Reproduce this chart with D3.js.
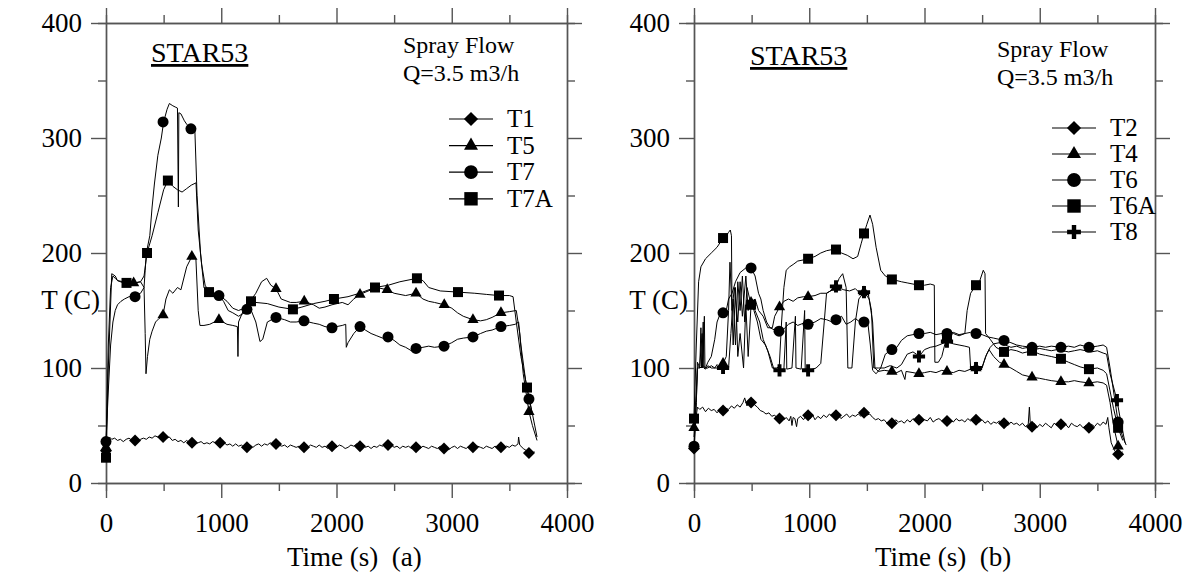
<!DOCTYPE html>
<html><head><meta charset="utf-8">
<script src="https://cdn.jsdelivr.net/npm/d3@7/dist/d3.min.js"></script>
<style>
body{margin:0;background:#fff;}
text{font-family:"Liberation Serif","Times New Roman",serif;fill:#000;white-space:pre;}
</style></head>
<body><svg id="c" width="1190" height="575"></svg>
<script>
// ---------- tick values / labels ----------
const timeMajor = [0,1000,2000,3000,4000];
const timeMinor = [500,1500,2500,3500];
const tempMajor = [0,100,200,300,400];
const tempMinor = [50,150,250,350];
const xTitles = ["Time (s)  (a)","Time (s)  (b)"];
const yTitle = "T (C)";
const caseLabel = "STAR53";
const noteLines = ["Spray Flow","Q=3.5 m3/h"];
const namesA = ["T1","T5","T7","T7A"];
const namesB = ["T2","T4","T6","T6A","T8"];

// ---------- panel (a) ----------
const a_T1 = [[0,27],[15,38],[30,40],[50,38],[75,39],[100,37],[125,38],[150,36],[175,38],[200,39],[225,37],[250,38],[275,36],[300,38],[325,39],[350,38],[375,40],[400,39],[425,41],[450,40],[475,42],[500,40],[525,39],[550,40],[575,37],[600,38],[625,36],[650,37],[675,35],[700,37],[725,35],[750,36],[775,34],[800,35],[825,36],[850,34],[875,35],[900,34],[925,36],[950,35],[975,36],[1000,34],[1025,35],[1050,33],[1075,34],[1100,32],[1125,34],[1150,32],[1175,33],[1200,31],[1225,32],[1250,33],[1275,31],[1300,33],[1325,34],[1350,32],[1375,34],[1400,33],[1425,35],[1450,33],[1475,34],[1500,33],[1525,32],[1550,33],[1575,31],[1600,33],[1625,32],[1650,31],[1675,32],[1700,30],[1725,32],[1750,31],[1775,33],[1800,32],[1825,31],[1850,33],[1875,31],[1900,32],[1925,30],[1950,32],[1975,33],[2000,31],[2025,33],[2050,32],[2075,30],[2100,31],[2125,33],[2150,32],[2175,34],[2200,32],[2225,33],[2250,31],[2275,32],[2300,30],[2325,32],[2350,31],[2375,33],[2400,32],[2425,34],[2450,32],[2475,33],[2500,31],[2525,32],[2550,30],[2575,32],[2600,31],[2625,32],[2650,30],[2675,31],[2700,32],[2725,30],[2750,32],[2775,31],[2800,30],[2825,32],[2850,31],[2875,30],[2900,32],[2925,30],[2950,31],[2975,29],[3000,31],[3025,32],[3050,30],[3075,32],[3100,31],[3125,30],[3150,32],[3175,31],[3200,30],[3225,32],[3250,31],[3275,30],[3300,32],[3325,31],[3350,30],[3375,32],[3400,31],[3425,32],[3450,30],[3475,32],[3500,31],[3525,33],[3550,32],[3575,34],[3580,40],[3590,33],[3620,30],[3650,28],[3680,26],[3720,27]];
const a_T1_marks = [[0,28],[252,37],[495,40],[746,35],[990,35],[1223,31],[1475,34],[1718,31],[1961,32],[2204,32],[2447,33],[2690,31],[2933,30],[3184,31],[3427,31],[3670,26]];

const a_T5 = [[0,30],[20,120],[40,170],[60,180],[80,178],[100,176],[150,175],[200,174],[250,174],[300,175],[330,170],[340,130],[347,95],[360,110],[380,125],[400,132],[430,140],[460,143],[495,146],[520,160],[550,168],[580,165],[620,170],[650,168],[680,180],[700,188],[745,197],[780,195],[800,150],[815,137],[850,137],[900,138],[980,142],[1050,138],[1100,137],[1140,136],[1145,110],[1150,140],[1200,152],[1250,158],[1300,165],[1350,175],[1394,178],[1430,172],[1475,169],[1520,160],[1600,157],[1650,157],[1720,158],[1800,155],[1850,152],[1900,153],[1961,155],[2050,157],[2100,155],[2150,160],[2204,164],[2300,168],[2350,170],[2440,168],[2500,165],[2600,163],[2690,165],[2750,160],[2800,158],[2850,157],[2935,155],[3000,152],[3050,148],[3100,145],[3184,142],[3250,141],[3300,142],[3350,144],[3427,148],[3500,149],[3560,150],[3590,130],[3620,95],[3670,62],[3700,50],[3740,37]];
const a_T5_marks = [[0,31],[240,174],[495,146],[745,197],[980,142],[1475,169],[1720,158],[2204,164],[2440,168],[2690,165],[2935,155],[3184,142],[3427,148],[3670,62]];

const a_T7 = [[0,36],[20,80],[40,120],[60,140],[80,150],[100,155],[130,158],[160,160],[200,162],[250,163],[300,165],[330,170],[340,185],[350,200],[380,215],[400,240],[420,260],[450,285],[480,300],[500,314],[530,325],[550,330],[580,328],[600,327],[620,326],[628,240],[632,322],[650,321],[680,315],[700,312],[740,308],[770,310],[790,250],[820,200],[850,170],[880,165],[920,165],[980,163],[1020,158],[1060,150],[1100,148],[1150,145],[1200,148],[1223,151],[1260,150],[1300,140],[1336,123],[1360,125],[1400,140],[1475,144],[1550,142],[1600,140],[1650,140],[1718,141],[1800,139],[1850,138],[1900,136],[1961,135],[2000,136],[2050,137],[2080,138],[2085,118],[2100,122],[2150,130],[2204,136],[2250,133],[2300,130],[2350,128],[2400,126],[2447,127],[2500,124],[2550,120],[2600,118],[2650,115],[2690,117],[2750,118],[2800,119],[2850,118],[2933,119],[3000,122],[3050,125],[3100,126],[3184,127],[3250,130],[3300,132],[3350,133],[3427,136],[3500,137],[3550,138],[3580,140],[3600,120],[3640,90],[3670,73],[3700,60],[3740,40]];
const a_T7_marks = [[0,36],[252,162],[495,314],[737,308],[980,163],[1223,151],[1475,144],[1718,141],[1961,135],[2204,136],[2447,127],[2690,117],[2933,119],[3184,127],[3427,136],[3670,73]];

const a_T7A = [[0,22],[20,100],[50,182],[80,180],[100,176],[150,174],[200,173],[250,174],[300,175],[330,180],[356,200],[400,215],[450,235],[500,255],[537,263],[580,258],[620,255],[660,253],[700,256],[740,259],[781,261],[800,220],[830,190],[860,172],[894,166],[950,165],[1000,162],[1050,158],[1100,152],[1150,150],[1200,152],[1258,158],[1300,157],[1400,156],[1500,153],[1622,151],[1700,153],[1800,156],[1900,158],[1978,160],[2100,162],[2200,165],[2334,170],[2450,172],[2550,175],[2698,178],[2750,176],[2800,170],[2900,167],[3054,166],[3200,165],[3300,164],[3410,163],[3500,163],[3532,162],[3560,140],[3600,110],[3653,83],[3700,60]];
const a_T7A_marks = [[0,22],[178,174],[356,200],[537,263],[894,166],[1258,158],[1622,151],[1978,160],[2334,170],[2698,178],[3054,166],[3410,163],[3653,83]];

// ---------- panel (b) ----------
const b_T2 = [[0,30],[15,55],[30,66],[50,64],[75,66],[100,62],[125,65],[150,63],[175,64],[200,61],[225,64],[250,63],[275,65],[300,64],[325,67],[350,65],[375,68],[400,66],[425,70],[440,74],[460,67],[480,72],[495,70],[510,73],[525,68],[550,66],[575,63],[600,62],[625,60],[650,61],[675,58],[700,59],[725,56],[742,56],[760,58],[780,55],[800,57],[825,54],[840,58],[850,50],[860,57],[875,56],[890,49],[900,56],[925,58],[950,55],[975,59],[990,58],[1010,56],[1025,60],[1050,55],[1075,58],[1100,56],[1125,59],[1150,57],[1175,60],[1200,58],[1225,57],[1250,59],[1275,56],[1300,58],[1325,60],[1350,57],[1375,59],[1400,58],[1425,60],[1450,58],[1475,61],[1500,59],[1525,60],[1550,57],[1575,55],[1600,56],[1625,54],[1650,55],[1675,52],[1700,54],[1725,52],[1750,55],[1775,53],[1800,54],[1825,52],[1850,55],[1875,53],[1900,56],[1925,54],[1950,55],[1975,53],[2000,55],[2025,54],[2050,57],[2075,53],[2100,55],[2125,56],[2150,54],[2175,56],[2200,54],[2225,55],[2250,53],[2275,56],[2300,54],[2325,55],[2350,53],[2375,56],[2400,54],[2425,55],[2450,54],[2475,53],[2500,55],[2525,52],[2550,54],[2575,51],[2600,53],[2625,52],[2650,54],[2675,51],[2700,52],[2725,50],[2750,53],[2775,51],[2800,52],[2825,50],[2850,52],[2875,49],[2900,51],[2910,66],[2920,48],[2933,50],[2950,52],[2975,48],[3000,51],[3025,49],[3050,52],[3075,50],[3100,48],[3125,52],[3150,50],[3175,52],[3200,49],[3225,51],[3250,48],[3275,52],[3300,50],[3325,49],[3350,51],[3375,48],[3400,50],[3425,48],[3450,51],[3475,49],[3500,52],[3525,50],[3550,53],[3575,51],[3590,57],[3600,48],[3620,35],[3650,28],[3680,25],[3720,27]];
const b_T2_marks = [[0,30],[252,63],[495,70],[742,56],[990,59],[1232,59],[1475,61],[1717,52],[1952,55],[2195,54],[2447,55],[2690,52],[2933,49],[3184,51],[3427,48],[3680,25]];

const b_T4 = [[0,48],[20,80],[30,100],[50,102],[70,130],[75,100],[90,145],[95,100],[120,100],[150,102],[180,100],[200,103],[230,100],[252,104],[280,110],[300,150],[312,192],[330,150],[350,170],[380,140],[400,175],[420,145],[450,180],[470,150],[495,157],[530,160],[560,150],[600,145],[640,135],[680,135],[700,145],[742,153],[780,158],[820,160],[860,158],[900,161],[950,162],[990,162],[1050,163],[1100,165],[1150,165],[1200,168],[1250,170],[1300,168],[1350,167],[1400,169],[1440,165],[1475,166],[1520,160],[1550,140],[1570,100],[1600,97],[1650,98],[1717,97],[1760,96],[1800,98],[1830,90],[1840,97],[1900,96],[1952,95],[2000,96],[2050,97],[2100,96],[2150,98],[2195,97],[2250,96],[2300,98],[2350,97],[2400,99],[2447,100],[2500,100],[2530,110],[2560,116],[2600,110],[2650,105],[2690,103],[2750,100],[2800,97],[2850,94],[2933,92],[3000,91],[3050,90],[3100,89],[3184,88],[3250,88],[3300,89],[3350,88],[3427,87],[3500,88],[3550,87],[3580,85],[3610,70],[3640,50],[3680,32],[3720,30]];
const b_T4_marks = [[0,48],[252,104],[495,157],[742,153],[990,162],[1232,170],[1475,166],[1717,97],[1952,95],[2195,97],[2447,100],[2690,103],[2933,92],[3184,88],[3427,87],[3680,32]];

const b_T6 = [[0,32],[20,70],[30,105],[50,100],[80,102],[100,100],[120,105],[150,110],[180,125],[200,140],[230,148],[252,148],[280,150],[300,160],[330,165],[360,175],[400,183],[450,187],[495,187],[530,180],[560,165],[580,160],[600,150],[630,140],[660,135],[700,133],[738,132],[780,134],[820,138],[860,140],[900,137],[950,139],[990,138],[1050,140],[1100,143],[1150,142],[1200,140],[1232,142],[1280,145],[1320,138],[1360,140],[1400,143],[1440,140],[1475,140],[1510,138],[1530,120],[1550,98],[1580,95],[1620,100],[1660,112],[1717,116],[1760,118],[1800,124],[1850,128],[1900,129],[1952,130],[2000,130],[2050,131],[2100,129],[2150,130],[2195,130],[2250,131],[2300,129],[2350,130],[2400,131],[2447,130],[2500,129],[2550,127],[2600,126],[2690,124],[2750,122],[2800,120],[2850,119],[2933,118],[3000,119],[3050,118],[3100,119],[3184,118],[3250,119],[3300,118],[3350,120],[3427,118],[3500,119],[3550,120],[3580,118],[3610,100],[3640,80],[3680,53],[3720,40],[3750,33]];
const b_T6_marks = [[0,32],[252,148],[495,187],[738,132],[990,138],[1232,142],[1475,140],[1717,116],[1952,130],[2195,130],[2447,130],[2690,124],[2933,118],[3184,118],[3427,118],[3680,53]];

const b_T6A = [[0,56],[20,120],[40,175],[60,188],[100,195],[150,200],[200,205],[252,213],[280,215],[300,218],[315,220],[325,215],[330,150],[340,120],[360,170],[380,110],[400,130],[430,100],[450,155],[470,110],[495,155],[520,150],[550,140],[580,125],[620,120],[660,110],[690,100],[720,100],[740,102],[760,140],[780,170],[800,185],[830,188],[860,190],[900,193],[950,194],[990,195],[1050,197],[1100,200],[1150,202],[1200,203],[1232,203],[1280,200],[1330,198],[1380,195],[1420,197],[1450,208],[1475,217],[1500,225],[1527,233],[1550,225],[1580,205],[1620,185],[1660,180],[1717,177],[1760,176],[1800,175],[1850,174],[1900,173],[1952,172],[2000,172],[2050,173],[2085,172],[2090,105],[2120,105],[2150,110],[2195,128],[2250,130],[2300,128],[2350,130],[2370,150],[2400,165],[2447,172],[2480,176],[2510,185],[2525,182],[2530,130],[2570,125],[2620,118],[2690,114],[2750,116],[2800,115],[2850,113],[2933,115],[3000,112],[3050,111],[3100,110],[3184,108],[3250,105],[3300,103],[3350,101],[3427,99],[3500,100],[3550,98],[3580,95],[3610,80],[3640,65],[3680,48],[3720,37]];
const b_T6A_marks = [[0,56],[252,213],[495,155],[990,195],[1232,203],[1475,217],[1717,177],[1952,172],[2195,128],[2447,172],[2690,114],[2933,115],[3184,108],[3427,99],[3680,48]];

const b_T8 = [[0,40],[20,70],[30,100],[50,100],[60,135],[65,100],[80,140],[85,100],[100,99],[120,102],[150,100],[200,100],[250,102],[300,100],[320,130],[340,160],[360,120],[380,175],[400,150],[420,180],[440,140],[460,170],[495,155],[530,150],[570,140],[600,125],[640,115],[680,100],[742,98],[780,99],[800,140],[805,99],[850,100],[880,145],[885,100],[930,99],[960,150],[965,98],[990,98],[1030,99],[1060,100],[1100,104],[1130,140],[1150,165],[1200,168],[1232,171],[1260,178],[1290,182],[1320,170],[1335,100],[1370,100],[1400,140],[1430,160],[1475,166],[1510,165],[1540,150],[1560,100],[1600,100],[1650,100],[1700,102],[1760,100],[1800,103],[1850,112],[1900,114],[1930,112],[1952,110],[2000,116],[2050,118],[2100,119],[2150,121],[2195,123],[2250,121],[2300,120],[2350,119],[2390,118],[2400,100],[2447,100],[2500,101],[2540,112],[2570,118],[2600,121],[2650,122],[2700,120],[2750,118],[2800,119],[2850,117],[2900,118],[2950,116],[3000,117],[3050,116],[3100,115],[3150,116],[3200,115],[3250,114],[3300,115],[3350,116],[3400,115],[3450,114],[3500,115],[3550,113],[3580,112],[3610,95],[3670,72],[3700,55],[3740,35]];
const b_T8_marks = [[252,100],[742,98],[990,98],[1232,171],[1475,166],[1952,110],[2195,123],[2447,100],[3670,72]];

// ---------- drawing ----------
const svg = d3.select("#c");
const AX = "#555";

const diamond = {draw(ctx,size){const r=Math.sqrt(size/2);ctx.moveTo(0,-r);ctx.lineTo(r,0);ctx.lineTo(0,r);ctx.lineTo(-r,0);ctx.closePath();}};
const plusSym = {draw(ctx,size){const r=Math.sqrt(size)/2, w=r*0.32;ctx.moveTo(-w,-r);ctx.lineTo(w,-r);ctx.lineTo(w,-w);ctx.lineTo(r,-w);ctx.lineTo(r,w);ctx.lineTo(w,w);ctx.lineTo(w,r);ctx.lineTo(-w,r);ctx.lineTo(-w,w);ctx.lineTo(-r,w);ctx.lineTo(-r,-w);ctx.lineTo(-w,-w);ctx.closePath();}};
const symTypes = {diamond:[diamond,72,100], triangle:[d3.symbolTriangle,55,85], circle:[d3.symbolCircle,95,150], square:[d3.symbolSquare,100,180], plus:[plusSym,150,190]};

function panel(cfg){
  const g = svg.append("g");
  const x = d3.scaleLinear([0,4000],[cfg.x0,cfg.x1]);
  const y = d3.scaleLinear([0,400],[483,23]);
  const axes = [
    [d3.axisBottom(x), `translate(0,${y(0)})`, true],
    [d3.axisTop(x), `translate(0,${y(400)})`, false],
  ];
  axes.forEach(([ax,tr,lab])=>{
    const gg=g.append("g").attr("transform",tr);
    gg.call(ax.tickValues(timeMajor).tickSize(15).tickSizeOuter(0).tickPadding(15).tickFormat(lab?d3.format("d"):""));
    gg.append("g").call(ax.tickValues(timeMinor).tickSize(8).tickFormat(""));
  });
  const yaxes = [
    [d3.axisLeft(y), `translate(${x(0)},0)`, true],
    [d3.axisRight(y), `translate(${x(4000)},0)`, false],
  ];
  yaxes.forEach(([ax,tr,lab])=>{
    const gg=g.append("g").attr("transform",tr);
    gg.call(ax.tickValues(tempMajor).tickSize(15).tickSizeOuter(0).tickPadding(9).tickFormat(lab?d3.format("d"):""));
    gg.append("g").call(ax.tickValues(tempMinor).tickSize(8).tickFormat(""));
  });
  g.selectAll(".domain").attr("stroke",AX).attr("stroke-width",1.4);
  g.selectAll(".tick line").attr("stroke",AX).attr("stroke-width",1.4);
  g.selectAll(".tick text").attr("font-size",27).attr("fill","#000");
  g.append("text").attr("x",cfg.titleX).attr("y",566).attr("font-size",27).text(cfg.xTitle);
  g.append("text").attr("x",cfg.yTitleX).attr("y",309).attr("text-anchor","end").attr("font-size",27).text(yTitle);
  g.append("text").attr("x",cfg.caseX).attr("y",cfg.caseY).attr("font-size",28).attr("text-decoration","underline").text(caseLabel);
  noteLines.forEach((t,i)=>g.append("text").attr("x",cfg.noteX).attr("y",cfg.noteY+i*28).attr("font-size",24).text(t));
  const line = d3.line().x(d=>x(d[0])).y(d=>y(d[1]));
  cfg.series.forEach(s=>{
    g.append("path").attr("d",line(s.line)).attr("fill","none").attr("stroke","#000").attr("stroke-width",1);
  });
  cfg.series.forEach(s=>{
    const [type,sz] = symTypes[s.sym];
    g.selectAll(null).data(s.marks).join("path")
      .attr("transform",d=>`translate(${x(d[0])},${y(d[1])})`)
      .attr("d",d3.symbol(type,sz)).attr("fill","#000");
  });
  cfg.series.forEach((s,i)=>{
    const yy = cfg.legY + i*cfg.legDy;
    g.append("line").attr("x1",cfg.legX).attr("x2",cfg.legX+44).attr("y1",yy).attr("y2",yy).attr("stroke","#000").attr("stroke-width",1.2);
    const [type,,lsz] = symTypes[s.sym];
    g.append("path").attr("transform",`translate(${cfg.legX+22},${yy})`).attr("d",d3.symbol(type,lsz)).attr("fill","#000");
    g.append("text").attr("x",cfg.legX+58).attr("y",yy+8).attr("font-size",25).text(s.name);
  });
}

panel({x0:106,x1:567,xTitle:xTitles[0],titleX:287,yTitleX:100,caseX:151,caseY:62,noteX:403,noteY:53,legX:449,legY:119,legDy:26.6,
  series:[
    {name:namesA[0],sym:"diamond",line:a_T1,marks:a_T1_marks},
    {name:namesA[1],sym:"triangle",line:a_T5,marks:a_T5_marks},
    {name:namesA[2],sym:"circle",line:a_T7,marks:a_T7_marks},
    {name:namesA[3],sym:"square",line:a_T7A,marks:a_T7A_marks}]});
panel({x0:694,x1:1155,xTitle:xTitles[1],titleX:875,yTitleX:688,caseX:750,caseY:65,noteX:997,noteY:57,legX:1052,legY:128,legDy:26,
  series:[
    {name:namesB[0],sym:"diamond",line:b_T2,marks:b_T2_marks},
    {name:namesB[1],sym:"triangle",line:b_T4,marks:b_T4_marks},
    {name:namesB[2],sym:"circle",line:b_T6,marks:b_T6_marks},
    {name:namesB[3],sym:"square",line:b_T6A,marks:b_T6A_marks},
    {name:namesB[4],sym:"plus",line:b_T8,marks:b_T8_marks}]});
</script></body></html>
